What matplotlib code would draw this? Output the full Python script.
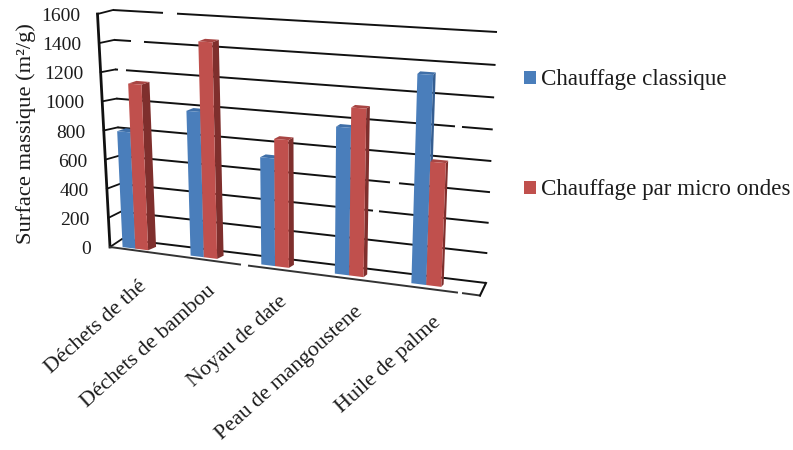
import numpy as np
import matplotlib
matplotlib.use("Agg")
import matplotlib.pyplot as plt
from matplotlib.patches import Polygon, Rectangle
from matplotlib.transforms import Transform

categories = ["Déchets de thé", "Déchets de bambou", "Noyau de date",
              "Peau de mangoustene", "Huile de palme"]
classique = [820, 1000, 735, 980, 1350]
micro_ondes = [1150, 1460, 865, 1110, 810]
ticks = [0, 200, 400, 600, 800, 1000, 1200, 1400, 1600]
series_names = ["Chauffage classique", "Chauffage par micro ondes"]
ylabel = "Surface massique (m²/g)"

VMAX = 1600.0
NCAT = 5.0


class Projective(Transform):
    """Maps (category position, value) on to a plane seen in perspective."""
    input_dims = output_dims = 2

    def __init__(self, corners):
        super().__init__()
        src = [(0, 0), (NCAT, 0), (NCAT, VMAX), (0, VMAX)]
        A, b = [], []
        for (x, y), (X, Y) in zip(src, corners):
            A.append([x, y, 1, 0, 0, 0, -x * X, -y * X]); b.append(X)
            A.append([0, 0, 0, x, y, 1, -x * Y, -y * Y]); b.append(Y)
        h = np.linalg.solve(np.array(A, float), np.array(b, float))
        self.H = np.append(h, 1).reshape(3, 3)

    def transform_non_affine(self, values):
        v = np.asarray(values, float)
        p = np.c_[v, np.ones(len(v))] @ self.H.T
        return p[:, :2] / p[:, 2:]


plt.rcParams["font.family"] = ["Liberation Serif", "DejaVu Serif"]
fig = plt.figure(figsize=(7.93, 4.5), dpi=100)
ax = fig.add_axes([0, 0, 1, 1])
ax.set_xlim(0, 793)
ax.set_ylim(450, 0)
ax.axis("off")

wall = Projective([(122, 239), (486, 283), (497, 32), (113, 10)])
bar_front = Projective([(102, 244.5), (466, 290), (477, 36), (90, 13)])
bar_back = Projective([(111, 241), (468, 287.5), (479, 33.5), (99, 10.5)])
wall_t = wall + ax.transData
front_t = bar_front + ax.transData
back_t = bar_back + ax.transData

INK = "#111111"
TXT = "#1c1c1c"
gaps = {1600: [(163, 177)], 1400: [(131, 144)], 1200: [(118, 126)],
        1000: [(455, 462)], 600: [(390, 399)], 400: [(373, 379)]}

# back wall gridlines
for t in ticks:
    a = wall.transform([(0, t)])[0]
    b = wall.transform([(NCAT, t)])[0]
    xs = [a[0]]
    ys = [a[1]]
    for g0, g1 in gaps.get(t, []):
        for gx in (g0, g1):
            xs.append(gx)
            ys.append(a[1] + (b[1] - a[1]) * (gx - a[0]) / (b[0] - a[0]))
    xs.append(b[0])
    ys.append(b[1])
    for i in range(0, len(xs), 2):
        ax.plot(xs[i:i + 2], ys[i:i + 2], color=INK, lw=1.4, solid_capstyle="butt", zorder=1)

# left wall: axis edge and the lines that join it to the back wall
axis_bottom = np.array([110.0, 247.0])
axis_top = np.array([97.5, 14.0])
axis_pts = {t: axis_bottom + (axis_top - axis_bottom) * t / VMAX for t in ticks}
ax.plot(*zip(axis_bottom, axis_top), color=INK, lw=2.0, zorder=1)
label_right_bottom, label_right_top = 91.0, 80.5
for t in ticks:
    c = wall.transform([(0, t)])[0]
    ax.plot(*zip(axis_pts[t], c), color=INK, lw=1.3, zorder=1)
    frac = t / VMAX
    ax.text(label_right_bottom + (label_right_top - label_right_bottom) * frac,
            249.5 - frac * 233, f"{t}", ha="right", va="center", fontsize=14, color=TXT)

# floor front edge
ax.plot([110, 240], [247, 264.5], color="#333333", lw=1.4, zorder=1)
ax.plot([249, 457], [265.7, 292.5], color="#333333", lw=1.4, zorder=1)
ax.plot([463, 480], [293.2, 295.5], color="#333333", lw=1.4, zorder=1)
ax.plot([480, 486], [295.5, 283], color=INK, lw=1.5, zorder=1)

# bars
WIDTH = 0.19
COLORS = [("#4A7EBB", "#355E91", "#3F6FA8"), ("#C0504D", "#7F2F2D", "#A84543")]


def draw_bar(u0, u1, v, cols, z):
    front, side, top = cols
    to_data = ax.transData.inverted()
    fr = front_t.transform([(u1, 0), (u1, v)])
    bk = back_t.transform([(u1, v), (u1, 0)])
    ax.fill(*to_data.transform(np.vstack([fr, bk])).T, color=side, lw=0, zorder=z)
    fl = front_t.transform([(u0, v), (u1, v)])
    bt = back_t.transform([(u1, v), (u0, v)])
    ax.fill(*to_data.transform(np.vstack([fl, bt])).T, color=top, lw=0, zorder=z)
    ax.add_patch(Polygon([(u0, 0), (u1, 0), (u1, v), (u0, v)], closed=True, facecolor=front,
                         edgecolor="none", transform=front_t, zorder=z + 0.1))


for i in range(len(categories)):
    c = i + 0.5
    draw_bar(c - WIDTH, c, classique[i], COLORS[0], 2 + i)
    draw_bar(c, c + WIDTH, micro_ondes[i], COLORS[1], 2.5 + i)

# category labels
anchors = [(138, 277), (206, 282), (278, 292), (354, 302), (432, 313)]
for name, (x, y) in zip(categories, anchors):
    ax.text(x, y, name, rotation=42, ha="right", va="top", rotation_mode="anchor",
            fontsize=15.8, color=TXT)

ax.text(26, 134, ylabel, rotation=90, ha="center", va="center", fontsize=16.2, color=TXT)

# legend
for name, col, y in zip(series_names, (COLORS[0][0], COLORS[1][0]), (71, 181)):
    ax.add_patch(Rectangle((524, y), 12, 12.5, facecolor=col, edgecolor="none"))
    ax.text(541, y + 8, name, ha="left", va="center", fontsize=16.6, color=TXT)

fig.savefig("out.png", dpi=100)
